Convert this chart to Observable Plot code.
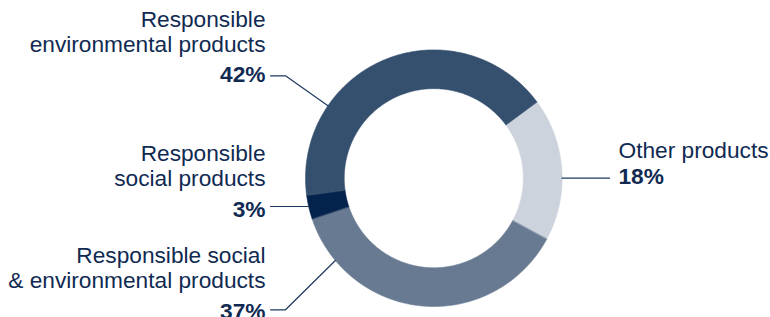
<!DOCTYPE html>
<html><head><meta charset="utf-8">
<script src="https://cdn.jsdelivr.net/npm/d3@7"></script>
<script src="https://cdn.jsdelivr.net/npm/@observablehq/plot@0.6"></script>
<style>
html,body{margin:0;padding:0;background:#fff;}
#chart svg{display:block;}
</style></head><body><div id="chart"></div>
<script>
// ---- data ----
const categories = [
  "Other products",
  "Responsible social & environmental products",
  "Responsible social products",
  "Responsible environmental products"
];
const values = [18, 37, 3, 42];
const nameLabels = [
  "Other products",
  "Responsible social\n& environmental products",
  "Responsible\nsocial products",
  "Responsible\nenvironmental products"
];
const percentLabels = ["18%", "37%", "3%", "42%"];

// ---- styles / layout ----
const sliceColors = ["#cdd3dc", "#687a92", "#03224c", "#35506f"];
const textColor = "#102a52";
const lineColor = "#1d3a5e";
const startAngleDeg = 53.6;
const innerRatio = 0.698;
const W = 770, H = 317;
const cx = 433.3, cy = 177.7, R = 128.3; // donut centre & outer radius in px
const fontFamily = "'Liberation Sans', Arial, Helvetica, sans-serif";
const fontSize = 22.7;

// annotation placement (px in the picture) -> converted into scale units
const ux = px => (px - cx) / R;
const uy = py => (cy - py) / R;
const labelLayout = [
  {anchor: "start", x: 618, nameY: 157, pctY: 183},
  {anchor: "end",   x: 265, nameY: 287,   pctY: 318},
  {anchor: "end",   x: 265, nameY: 185,   pctY: 216},
  {anchor: "end",   x: 265, nameY: 51,    pctY: 81}
];
// leader: text-side start, optional elbow, ring angle (deg, clockwise from 12 o'clock)
const leaderLayout = [
  {start: [609, null], elbow: null, ringDeg: 90},
  {start: [270, 309.3], elbow: [285, 309.3], ringDeg: 230.1},
  {start: [270, null], elbow: null, ringDeg: 257.25},
  {start: [270, 75.3], elbow: [285, 75.3], ringDeg: 304.4}
];

// ---- build donut slices from values ----
const rad = d => d * Math.PI / 180;
const a0 = rad(startAngleDeg);
const arcs = d3.pie().sort(null).startAngle(a0).endAngle(a0 + 2 * Math.PI)(values);
const slicePts = [];
arcs.forEach((a, i) => {
  const n = Math.max(4, Math.ceil((a.endAngle - a.startAngle) / rad(0.5)));
  for (let k = 0; k <= n; k++) {
    const t = a.startAngle + (a.endAngle - a.startAngle) * k / n;
    slicePts.push({cat: categories[i], x: Math.sin(t), y: Math.cos(t)});
  }
  for (let k = n; k >= 0; k--) {
    const t = a.startAngle + (a.endAngle - a.startAngle) * k / n;
    slicePts.push({cat: categories[i], x: innerRatio * Math.sin(t), y: innerRatio * Math.cos(t)});
  }
});

// ---- leader lines ----
const leaderPts = [];
leaderLayout.forEach((l, i) => {
  const t = rad(l.ringDeg);
  const ring = {x: Math.sin(t), y: Math.cos(t)};
  const sx = ux(l.start[0]);
  const sy = l.start[1] == null ? ring.y : uy(l.start[1]);
  leaderPts.push({id: i, x: sx, y: sy});
  if (l.elbow) leaderPts.push({id: i, x: ux(l.elbow[0]), y: uy(l.elbow[1])});
  leaderPts.push({id: i, x: ring.x, y: ring.y});
});

// ---- labels ----
const labels = categories.map((c, i) => ({
  cat: c, name: nameLabels[i], pct: percentLabels[i],
  anchor: labelLayout[i].anchor,
  x: ux(labelLayout[i].x), nameY: uy(labelLayout[i].nameY), pctY: uy(labelLayout[i].pctY)
}));
const textOpts = {fill: textColor, fontFamily, fontSize, lineAnchor: "bottom", lineHeight: 1.06};

const chart = Plot.plot({
  width: W, height: H, margin: 0,
  x: {domain: [ux(0), ux(W)], axis: null},
  y: {domain: [uy(H), uy(0)], axis: null},
  color: {domain: categories, range: sliceColors},
  marks: [
    Plot.line(slicePts, {x: "x", y: "y", z: "cat", fill: "cat", stroke: "cat", strokeWidth: 0.6, curve: "linear-closed"}),
    Plot.line(leaderPts, {x: "x", y: "y", z: "id", stroke: lineColor, strokeWidth: 1.2}),
    ...["start", "end"].map(anc => Plot.text(labels.filter(d => d.anchor === anc),
      {x: "x", y: "nameY", text: "name", textAnchor: anc, ...textOpts})),
    ...["start", "end"].map(anc => Plot.text(labels.filter(d => d.anchor === anc),
      {x: "x", y: "pctY", text: "pct", textAnchor: anc, fontWeight: "bold", ...textOpts}))
  ]
});
document.getElementById("chart").appendChild(chart);
</script></body></html>
